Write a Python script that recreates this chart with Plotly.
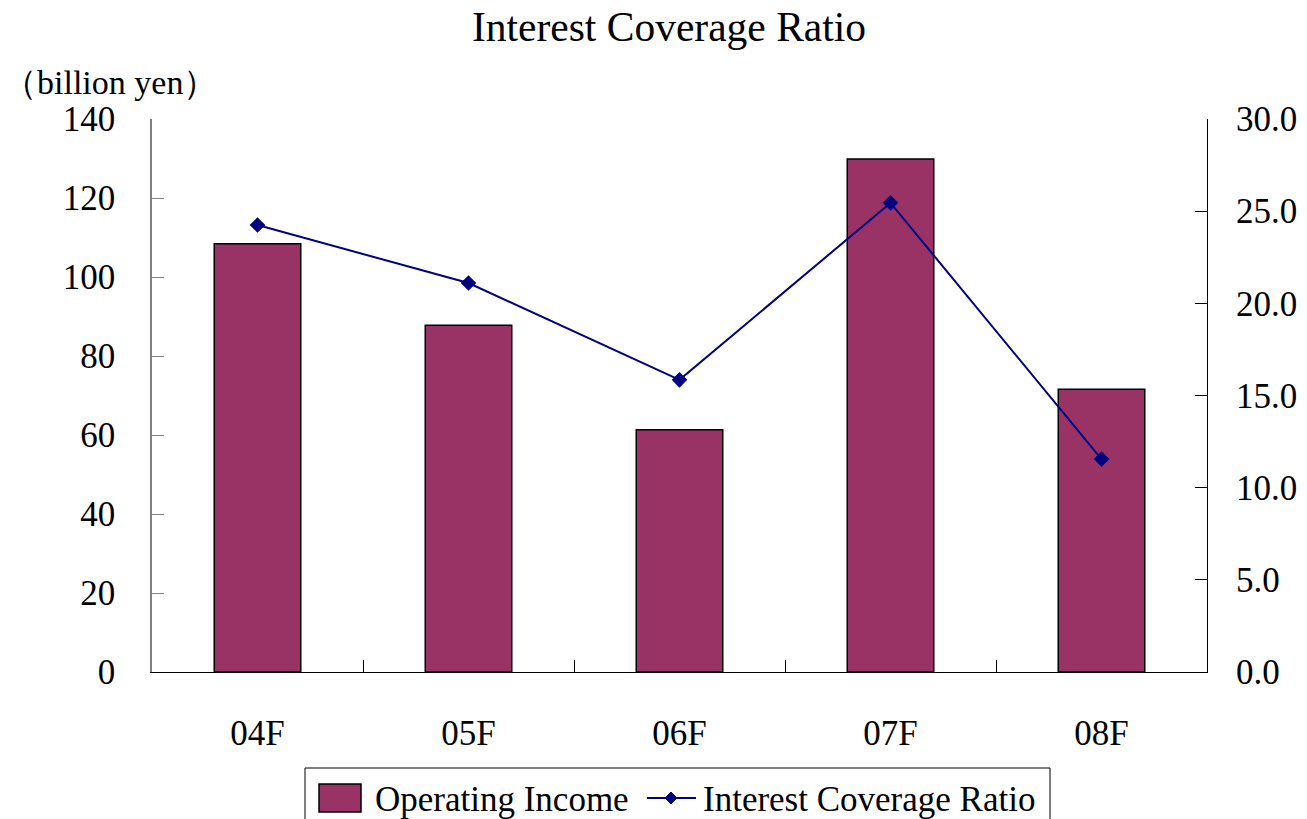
import plotly.graph_objects as go

# Fiscal years and values
categories = ["04F", "05F", "06F", "07F", "08F"]
operating_income = [108.4, 87.8, 61.3, 129.9, 71.6]   # billion yen
coverage_ratio = [24.25, 21.1, 15.85, 25.45, 11.55]    # times

left_ticks = [0, 20, 40, 60, 80, 100, 120, 140]
right_ticks = [0, 5, 10, 15, 20, 25, 30]

FONT = "Liberation Serif, Times New Roman, serif"
BAR_COLOR = "#993366"
LINE_COLOR = "#000080"

W, H = 1307, 819
ML, MR, MT, MB = 152, 100, 119, 147
PW, PH = W - ML - MR, H - MT - MB


def px(x):
    return (x - ML) / PW


def py(y):
    return (H - MB - y) / PH


fig = go.Figure()

fig.add_trace(go.Bar(
    x=categories, y=operating_income, name="Operating Income",
    marker=dict(color=BAR_COLOR, line=dict(color="#000000", width=1.5)),
    width=0.41, yaxis="y", showlegend=False,
))

fig.add_trace(go.Scatter(
    x=categories, y=coverage_ratio, name="Interest Coverage Ratio",
    mode="lines+markers",
    line=dict(color=LINE_COLOR, width=2),
    marker=dict(symbol="diamond", size=12, color=LINE_COLOR),
    yaxis="y2", showlegend=False,
))

# Legend drawn as a framed box below the axis
shapes = [
    dict(type="rect", xref="paper", yref="paper",
         x0=px(305), x1=px(1050), y0=py(835), y1=py(768),
         line=dict(color="#000000", width=1), fillcolor="white", layer="above"),
    dict(type="rect", xref="paper", yref="paper",
         x0=px(319), x1=px(361), y0=py(812), y1=py(784),
         line=dict(color="#000000", width=1.5), fillcolor=BAR_COLOR, layer="above"),
    dict(type="line", xref="paper", yref="paper",
         x0=px(647), x1=px(696), y0=py(798), y1=py(798),
         line=dict(color=LINE_COLOR, width=2), layer="above"),
    dict(type="path", xref="paper", yref="paper", layer="above",
         path="M {a},{m} L {c},{t} L {b},{m} L {c},{u} Z".format(
             a=px(665), b=px(677), c=px(671), m=py(798), t=py(792), u=py(804)),
         fillcolor=LINE_COLOR, line=dict(color=LINE_COLOR, width=1)),
]

annotations = [
    dict(text="（billion yen）", xref="paper", yref="paper",
         x=px(1), y=py(82), xanchor="left", yanchor="middle",
         showarrow=False, font=dict(size=34, family=FONT)),
    dict(text="Operating Income", xref="paper", yref="paper",
         x=px(373), y=py(799), xanchor="left", yanchor="middle",
         showarrow=False, font=dict(size=35, family=FONT)),
    dict(text="Interest Coverage Ratio", xref="paper", yref="paper",
         x=px(701), y=py(799), xanchor="left", yanchor="middle",
         showarrow=False, font=dict(size=35, family=FONT)),
]

fig.update_layout(
    width=W, height=H,
    margin=dict(l=ML, r=MR, t=MT, b=MB, autoexpand=False),
    paper_bgcolor="white", plot_bgcolor="white",
    font=dict(family=FONT, size=34, color="#000000"),
    title=dict(text="Interest Coverage Ratio", x=669 / W, xanchor="center",
               y=1 - 26 / H, yanchor="middle", font=dict(size=41.5, family=FONT)),
    showlegend=False,
    xaxis=dict(
        type="category", showgrid=False, showline=True, linecolor="#000000",
        linewidth=1, ticks="inside", ticklen=12, tickcolor="#000000",
        tickson="boundaries", tickfont=dict(size=35), ticklabelstandoff=30,
        range=[-0.5, 4.5],
    ),
    yaxis=dict(
        range=[0, 140], tickvals=left_ticks, showgrid=False, showline=True,
        linecolor="#808080", linewidth=1.5, ticks="inside", ticklen=12,
        tickcolor="#808080", tickfont=dict(size=35), ticklabelstandoff=28,
        zeroline=False,
    ),
    yaxis2=dict(
        range=[0, 30], tickvals=right_ticks, tickformat=".1f",
        overlaying="y", side="right", showgrid=False, showline=True,
        linecolor="#000000", linewidth=1, ticks="inside", ticklen=12,
        tickcolor="#000000", tickfont=dict(size=35), ticklabelstandoff=21,
        zeroline=False,
    ),
    shapes=shapes,
    annotations=annotations,
)

fig.write_html("out.html")
